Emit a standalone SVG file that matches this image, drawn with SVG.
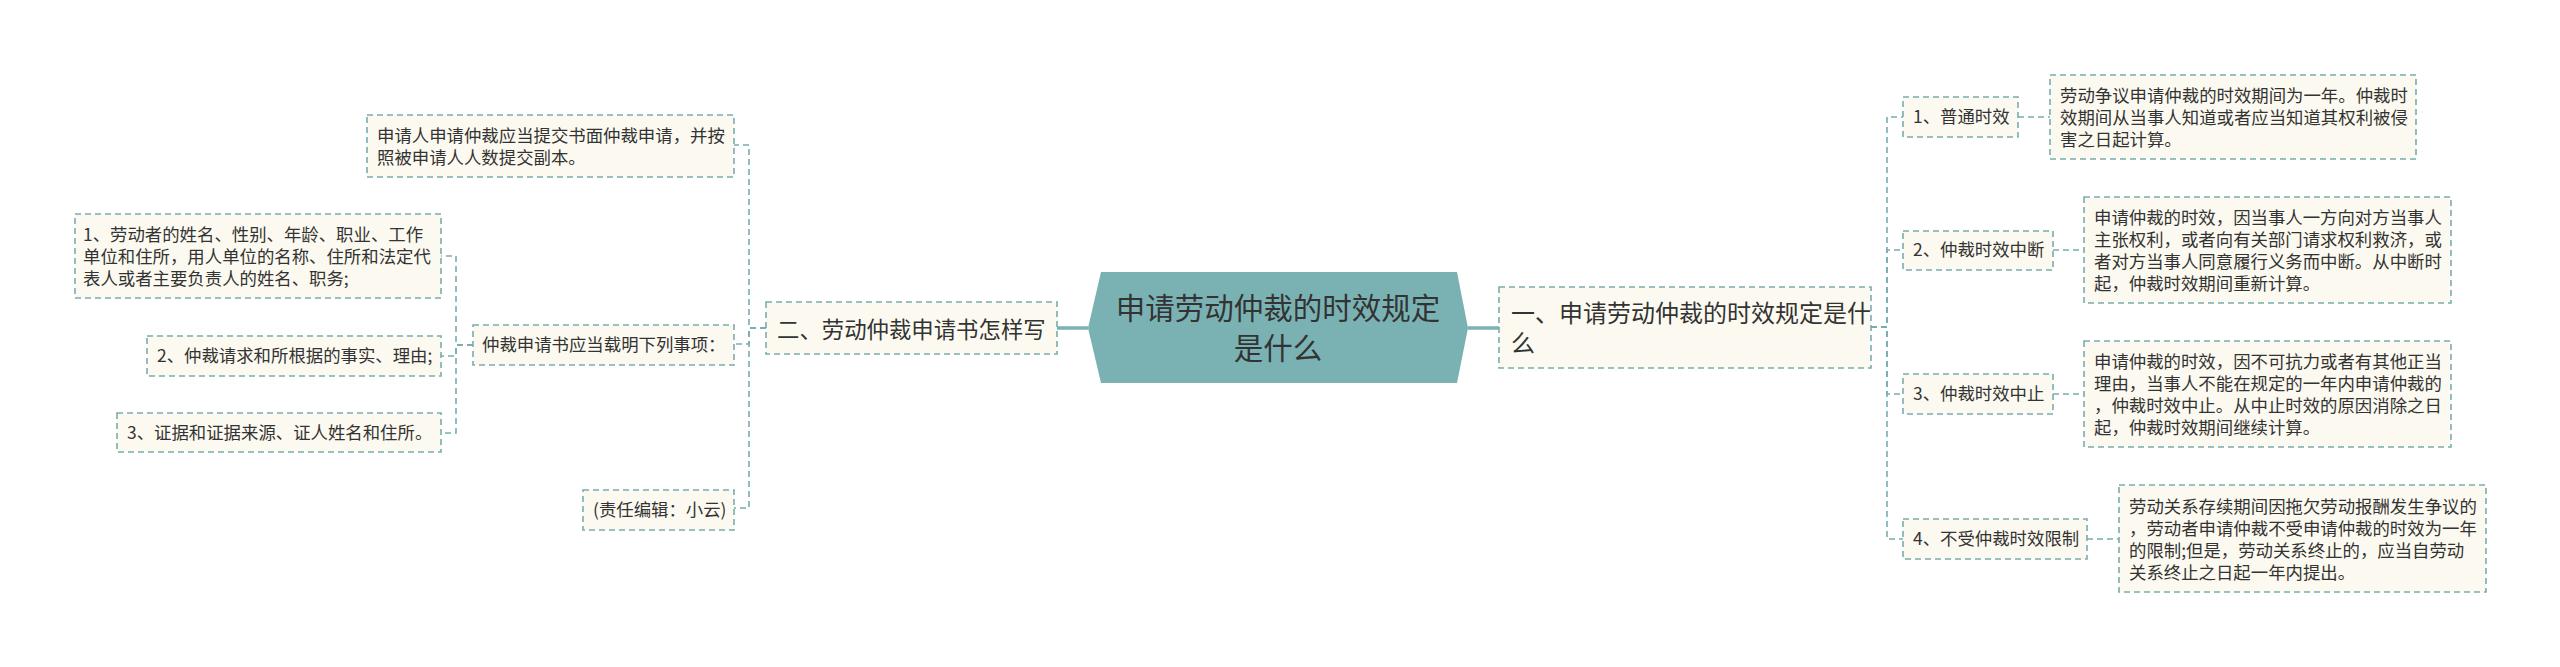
<svg xmlns="http://www.w3.org/2000/svg" width="2560" height="667" viewBox="0 0 2560 667">
<style>
.box{fill:#fcfaf0;stroke:#78adaf;stroke-width:1.6;stroke-dasharray:6 4}
.t{font-family:"Noto Sans CJK SC","Noto Sans",sans-serif;fill:#333333}
.s{font-size:17.4px}
.conn{fill:none;stroke:#78adaf;stroke-width:1.6;stroke-dasharray:6 4}
.main{fill:none;stroke:#7ab2b4;stroke-width:3.5}
</style>
<rect width="2560" height="667" fill="#ffffff"/>
<g id="connectors">
<path class="main" d="M1057 328H1088"/>
<path class="main" d="M1468 328H1499"/>
<path class="conn" d="M766 328H749V145H734"/>
<path class="conn" d="M766 328H749V344H734"/>
<path class="conn" d="M766 328H749V508H734"/>
<path class="conn" d="M473 345H456V256H441"/>
<path class="conn" d="M473 345H456V356H441"/>
<path class="conn" d="M473 345H456V433H441"/>
<path class="conn" d="M1871 327H1887V117H1903"/>
<path class="conn" d="M1871 327H1887V250H1903"/>
<path class="conn" d="M1871 327H1887V394H1903"/>
<path class="conn" d="M1871 327H1887V539H1903"/>
<path class="conn" d="M2018 117H2050"/>
<path class="conn" d="M2053 250H2084"/>
<path class="conn" d="M2053 394H2084"/>
<path class="conn" d="M2087 539H2119"/>
</g>
<g id="root">
<polygon points="1101,272 1457,272 1468,328 1457,383 1101,383 1088,328" fill="#7ab2b4"/>
<text class="t" font-size="29.5" text-anchor="middle"><tspan x="1278" y="319">申请劳动仲裁的时效规定</tspan><tspan x="1278" y="359">是什么</tspan></text>
</g>
<g id="n-er">
<rect class="box" x="766" y="302" width="291" height="52"/>
<text class="t" x="777" y="338" font-size="22.4">二、劳动仲裁申请书怎样写</text>
</g>
<g id="n-top">
<rect class="box" x="367" y="115" width="367" height="62"/>
<text class="t s"><tspan x="377" y="142">申请人申请仲裁应当提交书面仲裁申请，并按</tspan><tspan x="377" y="164">照被申请人人数提交副本。</tspan></text>
</g>
<g id="n-zhongcai">
<rect class="box" x="473" y="325" width="261" height="40"/>
<text class="t s" x="482" y="351">仲裁申请书应当载明下列事项：</text>
</g>
<g id="n-editor">
<rect class="box" x="583" y="490" width="151" height="40"/>
<text class="t s" x="593" y="516">(责任编辑：小云)</text>
</g>
<g id="n-l1">
<rect class="box" x="75" y="214" width="366" height="84"/>
<text class="t s"><tspan x="83" y="241">1、劳动者的姓名、性别、年龄、职业、工作</tspan><tspan x="83" y="263">单位和住所，用人单位的名称、住所和法定代</tspan><tspan x="83" y="285">表人或者主要负责人的姓名、职务;</tspan></text>
</g>
<g id="n-l2">
<rect class="box" x="147" y="336" width="294" height="40"/>
<text class="t s" x="157" y="362">2、仲裁请求和所根据的事实、理由;</text>
</g>
<g id="n-l3">
<rect class="box" x="117" y="413" width="324" height="39"/>
<text class="t s" x="127" y="439">3、证据和证据来源、证人姓名和住所。</text>
</g>
<g id="n-yi">
<rect class="box" x="1499" y="287" width="372" height="81"/>
<text class="t" font-size="24"><tspan x="1511" y="322">一、申请劳动仲裁的时效规定是什</tspan><tspan x="1511" y="352">么</tspan></text>
</g>
<g id="n-c1">
<rect class="box" x="1903" y="97" width="115" height="40"/>
<text class="t s" x="1913" y="123">1、普通时效</text>
</g>
<g id="n-c2">
<rect class="box" x="1903" y="231" width="150" height="39"/>
<text class="t s" x="1913" y="256">2、仲裁时效中断</text>
</g>
<g id="n-c3">
<rect class="box" x="1903" y="374" width="150" height="40"/>
<text class="t s" x="1913" y="400">3、仲裁时效中止</text>
</g>
<g id="n-c4">
<rect class="box" x="1903" y="519" width="184" height="40"/>
<text class="t s" x="1913" y="545">4、不受仲裁时效限制</text>
</g>
<g id="n-leaf1">
<rect class="box" x="2050" y="75" width="366" height="84"/>
<text class="t s"><tspan x="2060" y="102">劳动争议申请仲裁的时效期间为一年。仲裁时</tspan><tspan x="2060" y="124">效期间从当事人知道或者应当知道其权利被侵</tspan><tspan x="2060" y="146">害之日起计算。</tspan></text>
</g>
<g id="n-leaf2">
<rect class="box" x="2084" y="197" width="367" height="106"/>
<text class="t s"><tspan x="2094" y="224">申请仲裁的时效，因当事人一方向对方当事人</tspan><tspan x="2094" y="246">主张权利，或者向有关部门请求权利救济，或</tspan><tspan x="2094" y="268">者对方当事人同意履行义务而中断。从中断时</tspan><tspan x="2094" y="290">起，仲裁时效期间重新计算。</tspan></text>
</g>
<g id="n-leaf3">
<rect class="box" x="2084" y="341" width="367" height="106"/>
<text class="t s"><tspan x="2094" y="368">申请仲裁的时效，因不可抗力或者有其他正当</tspan><tspan x="2094" y="390">理由，当事人不能在规定的一年内申请仲裁的</tspan><tspan x="2094" y="412">，仲裁时效中止。从中止时效的原因消除之日</tspan><tspan x="2094" y="434">起，仲裁时效期间继续计算。</tspan></text>
</g>
<g id="n-leaf4">
<rect class="box" x="2119" y="485" width="367" height="107"/>
<text class="t s"><tspan x="2129" y="513">劳动关系存续期间因拖欠劳动报酬发生争议的</tspan><tspan x="2129" y="535">，劳动者申请仲裁不受申请仲裁的时效为一年</tspan><tspan x="2129" y="557">的限制;但是，劳动关系终止的，应当自劳动</tspan><tspan x="2129" y="579">关系终止之日起一年内提出。</tspan></text>
</g>
</svg>
